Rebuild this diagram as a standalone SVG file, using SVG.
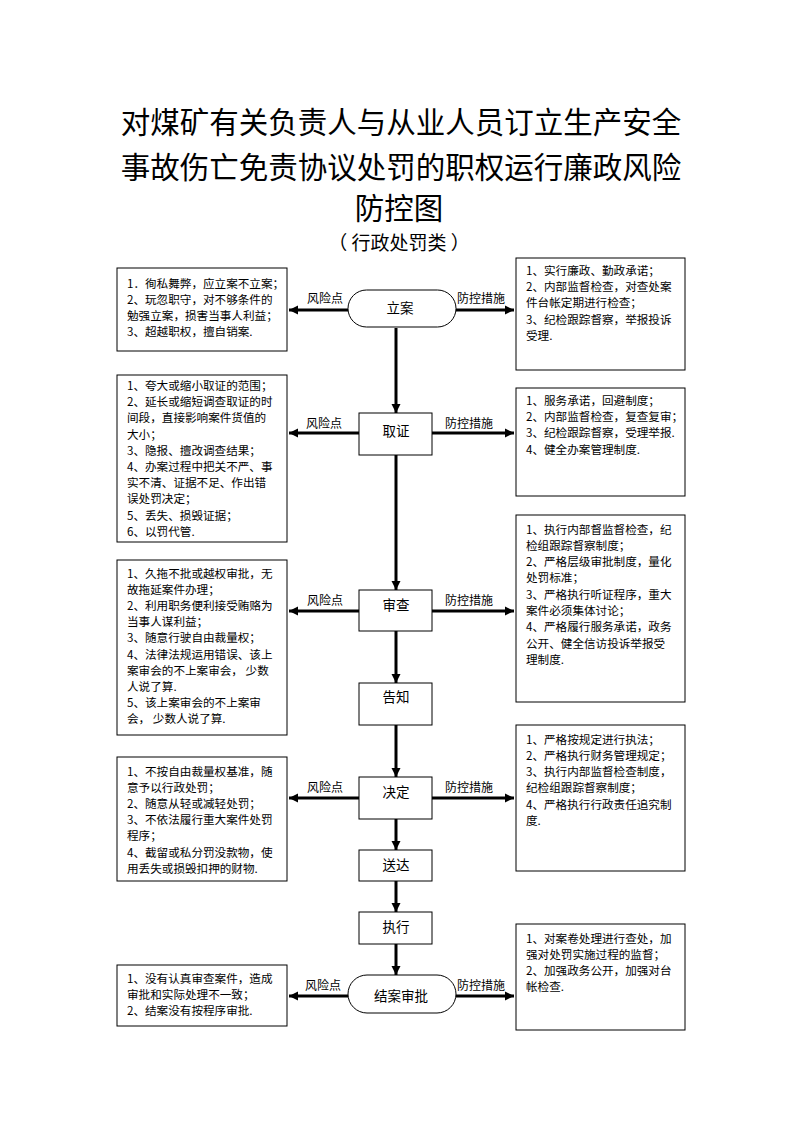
<svg xmlns="http://www.w3.org/2000/svg" width="794" height="1123" viewBox="0 0 794 1123">
<style>
text{font-family:"Noto Sans CJK SC","Noto Sans",sans-serif;fill:#000}
.title{font-size:29.5px;text-anchor:middle}
.sub{font-size:19px;text-anchor:middle}
.body{font-size:11.6px}
.lbl{font-size:12px;text-anchor:middle}
.nd{font-size:13.5px;text-anchor:middle}
.box{fill:#fff;stroke:#000;stroke-width:1}
.conn{stroke:#000;stroke-width:3;fill:none}
</style>
<defs>
<marker id="ah" markerUnits="userSpaceOnUse" markerWidth="10" markerHeight="10" refX="9" refY="5" orient="auto">
<path d="M0,0.5 L9,5 L0,9.5 z" fill="#000"/>
</marker>
</defs>
<rect width="794" height="1123" fill="#fff"/>
<g id="title">
<text class="title" x="401" y="133">对煤矿有关负责人与从业人员订立生产安全</text>
<text class="title" x="401" y="178">事故伤亡免责协议处罚的职权运行廉政风险</text>
<text class="title" x="399" y="219">防控图</text>
<text class="sub" x="399" y="250">（ 行政处罚类 ）</text>
</g>
<g id="connectors">
<line class="conn" x1="348" y1="310" x2="289" y2="310" marker-end="url(#ah)"/>
<line class="conn" x1="456" y1="310" x2="514" y2="310" marker-end="url(#ah)"/>
<line class="conn" x1="396" y1="328" x2="396" y2="413" marker-end="url(#ah)"/>
<line class="conn" x1="359" y1="433" x2="289" y2="433" marker-end="url(#ah)"/>
<line class="conn" x1="432" y1="433" x2="514" y2="433" marker-end="url(#ah)"/>
<line class="conn" x1="396" y1="455" x2="396" y2="590" marker-end="url(#ah)"/>
<line class="conn" x1="359" y1="611" x2="289" y2="611" marker-end="url(#ah)"/>
<line class="conn" x1="432" y1="611" x2="514" y2="611" marker-end="url(#ah)"/>
<line class="conn" x1="396" y1="631" x2="396" y2="683" marker-end="url(#ah)"/>
<line class="conn" x1="396" y1="725" x2="396" y2="777" marker-end="url(#ah)"/>
<line class="conn" x1="359" y1="798" x2="289" y2="798" marker-end="url(#ah)"/>
<line class="conn" x1="432" y1="798" x2="514" y2="798" marker-end="url(#ah)"/>
<line class="conn" x1="396" y1="819" x2="396" y2="850" marker-end="url(#ah)"/>
<line class="conn" x1="396" y1="881" x2="396" y2="912" marker-end="url(#ah)"/>
<line class="conn" x1="396" y1="944" x2="396" y2="975" marker-end="url(#ah)"/>
<line class="conn" x1="348" y1="996" x2="289" y2="996" marker-end="url(#ah)"/>
<line class="conn" x1="456" y1="996" x2="514" y2="996" marker-end="url(#ah)"/>
<text class="lbl" x="325" y="302.5">风险点</text>
<text class="lbl" x="481" y="302.5">防控措施</text>
<text class="lbl" x="324" y="427.5">风险点</text>
<text class="lbl" x="469" y="427.5">防控措施</text>
<text class="lbl" x="325" y="605">风险点</text>
<text class="lbl" x="469" y="605">防控措施</text>
<text class="lbl" x="325" y="791.5">风险点</text>
<text class="lbl" x="469" y="791.5">防控措施</text>
<text class="lbl" x="323" y="989.5">风险点</text>
<text class="lbl" x="481" y="989.5">防控措施</text>
</g>
<g id="n-lian">
<rect class="box" x="348" y="290" width="108" height="37" rx="18.5" ry="18.5"/>
<text class="nd" x="400" y="313">立案</text>
</g>
<g id="n-quzheng">
<rect class="box" x="359" y="413" width="73" height="42"/>
<text class="nd" x="396" y="436">取证</text>
</g>
<g id="n-shencha">
<rect class="box" x="359" y="590" width="73" height="41"/>
<text class="nd" x="396" y="610">审查</text>
</g>
<g id="n-gaozhi">
<rect class="box" x="359" y="683" width="73" height="42"/>
<text class="nd" x="396" y="702">告知</text>
</g>
<g id="n-jueding">
<rect class="box" x="359" y="777" width="73" height="42"/>
<text class="nd" x="396" y="797">决定</text>
</g>
<g id="n-songda">
<rect class="box" x="359" y="850" width="73" height="31"/>
<text class="nd" x="396" y="870">送达</text>
</g>
<g id="n-zhixing">
<rect class="box" x="359" y="912" width="73" height="32"/>
<text class="nd" x="396" y="932">执行</text>
</g>
<g id="n-jiean">
<rect class="box" x="348" y="975" width="108" height="38" rx="19" ry="19"/>
<text class="nd" x="401" y="1001">结案审批</text>
</g>
<g id="risk1">
<rect class="box" x="117" y="268" width="170" height="83"/>
<text class="body" x="127" y="287.5"><tspan x="127">1．徇私舞弊，应立案不立案；</tspan><tspan x="127" dy="16.2">2、玩忽职守，对不够条件的</tspan><tspan x="127" dy="16.2">勉强立案，损害当事人利益；</tspan><tspan x="127" dy="16.2">3、超越职权，擅自销案.</tspan></text>
</g>
<g id="risk2">
<rect class="box" x="117" y="375" width="170" height="167"/>
<text class="body" x="127" y="390"><tspan x="127">1、夸大或缩小取证的范围；</tspan><tspan x="127" dy="16.2">2、延长或缩短调查取证的时</tspan><tspan x="127" dy="16.2">间段，直接影响案件货值的</tspan><tspan x="127" dy="16.2">大小；</tspan><tspan x="127" dy="16.2">3、隐报、擅改调查结果；</tspan><tspan x="127" dy="16.2">4、办案过程中把关不严、事</tspan><tspan x="127" dy="16.2">实不清、证据不足、作出错</tspan><tspan x="127" dy="16.2">误处罚决定；</tspan><tspan x="127" dy="16.2">5、丢失、损毁证据；</tspan><tspan x="127" dy="16.2">6、以罚代管.</tspan></text>
</g>
<g id="risk3">
<rect class="box" x="117" y="560" width="170" height="175"/>
<text class="body" x="127" y="577.5"><tspan x="127">1、久拖不批或越权审批，无</tspan><tspan x="127" dy="16.2">故拖延案件办理；</tspan><tspan x="127" dy="16.2">2、利用职务便利接受贿赂为</tspan><tspan x="127" dy="16.2">当事人谋利益；</tspan><tspan x="127" dy="16.2">3、随意行驶自由裁量权；</tspan><tspan x="127" dy="16.2">4、法律法规运用错误、该上</tspan><tspan x="127" dy="16.2">案审会的不上案审会， 少数</tspan><tspan x="127" dy="16.2">人说了算.</tspan><tspan x="127" dy="16.2">5、该上案审会的不上案审</tspan><tspan x="127" dy="16.2">会， 少数人说了算.</tspan></text>
</g>
<g id="risk4">
<rect class="box" x="117" y="757" width="170" height="124"/>
<text class="body" x="127" y="775.5"><tspan x="127">1、不按自由裁量权基准，随</tspan><tspan x="127" dy="16.2">意予以行政处罚；</tspan><tspan x="127" dy="16.2">2、随意从轻或减轻处罚；</tspan><tspan x="127" dy="16.2">3、不依法履行重大案件处罚</tspan><tspan x="127" dy="16.2">程序；</tspan><tspan x="127" dy="16.2">4、截留或私分罚没款物，使</tspan><tspan x="127" dy="16.2">用丢失或损毁扣押的财物.</tspan></text>
</g>
<g id="risk5">
<rect class="box" x="117" y="965" width="170" height="61"/>
<text class="body" x="127" y="982.5"><tspan x="127">1、没有认真审查案件，造成</tspan><tspan x="127" dy="16.2">审批和实际处理不一致；</tspan><tspan x="127" dy="16.2">2、结案没有按程序审批.</tspan></text>
</g>
<g id="ctrl1">
<rect class="box" x="516" y="258" width="169" height="112"/>
<text class="body" x="526" y="274.5"><tspan x="526">1、实行廉政、勤政承诺；</tspan><tspan x="526" dy="16.4">2、内部监督检查，对查处案</tspan><tspan x="526" dy="16.4">件台帐定期进行检查；</tspan><tspan x="526" dy="16.4">3、纪检跟踪督察，举报投诉</tspan><tspan x="526" dy="16.4">受理.</tspan></text>
</g>
<g id="ctrl2">
<rect class="box" x="516" y="388" width="169" height="108"/>
<text class="body" x="526" y="404.5"><tspan x="526">1、服务承诺，回避制度；</tspan><tspan x="526" dy="16.4">2、内部监督检查，复查复审；</tspan><tspan x="526" dy="16.4">3、纪检跟踪督察，受理举报.</tspan><tspan x="526" dy="16.4">4、健全办案管理制度.</tspan></text>
</g>
<g id="ctrl3">
<rect class="box" x="516" y="515" width="169" height="187"/>
<text class="body" x="526" y="533.5"><tspan x="526">1、执行内部督监督检查，纪</tspan><tspan x="526" dy="16.3">检组跟踪督察制度；</tspan><tspan x="526" dy="16.3">2、严格层级审批制度，量化</tspan><tspan x="526" dy="16.3">处罚标准；</tspan><tspan x="526" dy="16.3">3、严格执行听证程序，重大</tspan><tspan x="526" dy="16.3">案件必须集体讨论；</tspan><tspan x="526" dy="16.3">4、严格履行服务承诺，政务</tspan><tspan x="526" dy="16.3">公开、健全信访投诉举报受</tspan><tspan x="526" dy="16.3">理制度.</tspan></text>
</g>
<g id="ctrl4">
<rect class="box" x="516" y="725" width="169" height="146"/>
<text class="body" x="526" y="743.5"><tspan x="526">1、严格按规定进行执法；</tspan><tspan x="526" dy="16.3">2、严格执行财务管理规定；</tspan><tspan x="526" dy="16.3">3、执行内部监督检查制度，</tspan><tspan x="526" dy="16.3">纪检组跟踪督察制度；</tspan><tspan x="526" dy="16.3">4、严格执行行政责任追究制</tspan><tspan x="526" dy="16.3">度.</tspan></text>
</g>
<g id="ctrl5">
<rect class="box" x="516" y="924" width="169" height="106"/>
<text class="body" x="526" y="942.5"><tspan x="526">1、对案卷处理进行查处，加</tspan><tspan x="526" dy="16.3">强对处罚实施过程的监督；</tspan><tspan x="526" dy="16.3">2、加强政务公开，加强对台</tspan><tspan x="526" dy="16.3">帐检查.</tspan></text>
</g>
</svg>
